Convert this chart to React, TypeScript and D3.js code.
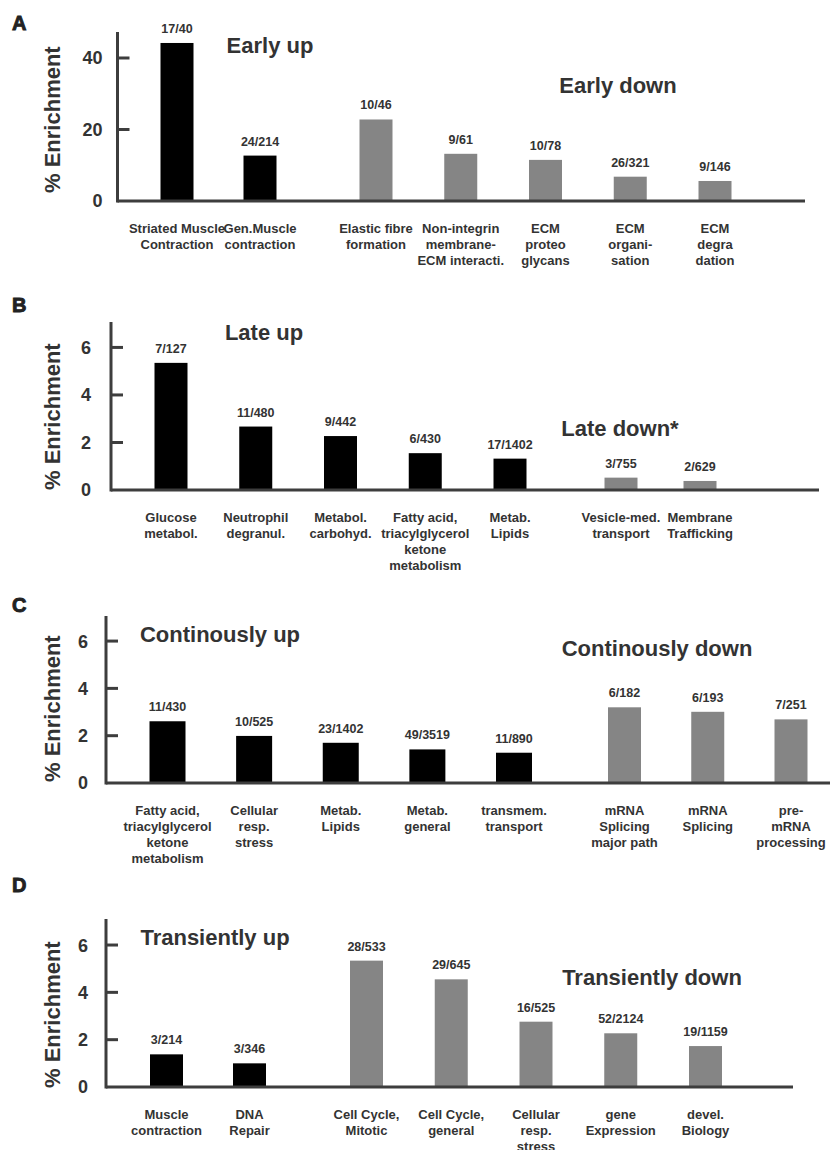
import React from "react";
import * as d3 from "d3";

// ---------- DATA ----------
const upCatsA = [["Striated Muscle", "Contraction"], ["Gen.Muscle", "contraction"]];
const upValsA = [44.2, 12.7];
const upNA = ["17/40", "24/214"];
const downCatsA = [
  ["Elastic fibre", "formation"],
  ["Non-integrin", "membrane-", "ECM interacti."],
  ["ECM", "proteo", "glycans"],
  ["ECM", "organi-", "sation"],
  ["ECM", "degra", "dation"],
];
const downValsA = [22.8, 13.2, 11.5, 6.8, 5.6];
const downNA = ["10/46", "9/61", "10/78", "26/321", "9/146"];
const ticksA = [0, 20, 40];

const upCatsB = [
  ["Glucose", "metabol."],
  ["Neutrophil", "degranul."],
  ["Metabol.", "carbohyd."],
  ["Fatty acid,", "triacylglycerol", "ketone", "metabolism"],
  ["Metab.", "Lipids"],
];
const upValsB = [5.35, 2.67, 2.27, 1.55, 1.32];
const upNB = ["7/127", "11/480", "9/442", "6/430", "17/1402"];
const downCatsB = [["Vesicle-med.", "transport"], ["Membrane", "Trafficking"]];
const downValsB = [0.52, 0.38];
const downNB = ["3/755", "2/629"];
const ticksB = [0, 2, 4, 6];

const upCatsC = [
  ["Fatty acid,", "triacylglycerol", "ketone", "metabolism"],
  ["Cellular", "resp.", "stress"],
  ["Metab.", "Lipids"],
  ["Metab.", "general"],
  ["transmem.", "transport"],
];
const upValsC = [2.61, 1.99, 1.7, 1.42, 1.28];
const upNC = ["11/430", "10/525", "23/1402", "49/3519", "11/890"];
const downCatsC = [
  ["mRNA", "Splicing", "major path"],
  ["mRNA", "Splicing"],
  ["pre-", "mRNA", "processing"],
];
const downValsC = [3.2, 3.01, 2.69];
const downNC = ["6/182", "6/193", "7/251"];
const ticksC = [0, 2, 4, 6];

const upCatsD = [["Muscle", "contraction"], ["DNA", "Repair"]];
const upValsD = [1.38, 1.0];
const upND = ["3/214", "3/346"];
const downCatsD = [
  ["Cell Cycle,", "Mitotic"],
  ["Cell Cycle,", "general"],
  ["Cellular", "resp.", "stress"],
  ["gene", "Expression"],
  ["devel.", "Biology"],
];
const downValsD = [5.34, 4.55, 2.76, 2.27, 1.73];
const downND = ["28/533", "29/645", "16/525", "52/2124", "19/1159"];
const ticksD = [0, 2, 4, 6];

// ---------- LAYOUT ----------
const FONT = "'Liberation Sans', Arial, Helvetica, sans-serif";
const TXT = "#333333";
const AXIS = "#3d3d3d";
const GRAY = "#858585";

type Group = { cats: string[][]; vals: number[]; ns: string[]; range: [number, number]; color: string; w: number; title: string; titlePos: [number, number] };
type Panel = { letter: string; letterY: number; axisX: number; top: number; base: number; yMax: number; ticks: number[]; tickGap: number; end: number; yLabelBottom: number; groups: Group[] };

const panels: Panel[] = [
  {
    letter: "A", letterY: 30, axisX: 117.5, top: 32, base: 201, yMax: 47.27, ticks: ticksA, tickGap: 15, end: 805, yLabelBottom: 193,
    groups: [
      { cats: upCatsA, vals: upValsA, ns: upNA, range: [177, 260], color: "#000", w: 33, title: "Early up", titlePos: [270, 53] },
      { cats: downCatsA, vals: downValsA, ns: downNA, range: [376, 715], color: GRAY, w: 33, title: "Early down", titlePos: [618, 93] },
    ],
  },
  {
    letter: "B", letterY: 312, axisX: 111, top: 322, base: 490, yMax: 7.07, ticks: ticksB, tickGap: 20, end: 819, yLabelBottom: 490,
    groups: [
      { cats: upCatsB, vals: upValsB, ns: upNB, range: [171, 510], color: "#000", w: 33, title: "Late up", titlePos: [264, 340] },
      { cats: downCatsB, vals: downValsB, ns: downNB, range: [621, 700], color: GRAY, w: 33, title: "Late down*", titlePos: [620, 436] },
    ],
  },
  {
    letter: "C", letterY: 612, axisX: 106, top: 616, base: 783, yMax: 7.06, ticks: ticksC, tickGap: 18, end: 830, yLabelBottom: 782,
    groups: [
      { cats: upCatsC, vals: upValsC, ns: upNC, range: [167.5, 514], color: "#000", w: 36, title: "Continously up", titlePos: [220, 642] },
      { cats: downCatsC, vals: downValsC, ns: downNC, range: [624.5, 791], color: GRAY, w: 33, title: "Continously down", titlePos: [657, 656] },
    ],
  },
  {
    letter: "D", letterY: 892, axisX: 106, top: 919, base: 1087, yMax: 7.1, ticks: ticksD, tickGap: 18, end: 793, yLabelBottom: 1088,
    groups: [
      { cats: upCatsD, vals: upValsD, ns: upND, range: [166.5, 249.5], color: "#000", w: 33, title: "Transiently up", titlePos: [215, 945] },
      { cats: downCatsD, vals: downValsD, ns: downND, range: [366.5, 705.5], color: GRAY, w: 33, title: "Transiently down", titlePos: [652, 985] },
    ],
  },
];

function PanelView({ p }: { p: Panel }) {
  const y = d3.scaleLinear().domain([0, p.yMax]).range([p.base, p.top]);
  return (
    <g>
      <text x={12} y={p.letterY} fontSize={20} fontWeight={900} fill="#222" stroke="#222" strokeWidth={0.9} fontFamily={FONT}>
        {p.letter}
      </text>
      <text
        transform={`translate(60,${p.yLabelBottom}) rotate(-90)`}
        fontSize={22}
        fontWeight="bold"
        fill={TXT}
        fontFamily={FONT}
      >
        % Enrichment
      </text>
      {p.ticks.map((t) => (
        <g key={t}>
          {t !== 0 && <line x1={p.axisX} x2={p.axisX + 12} y1={y(t)} y2={y(t)} stroke={AXIS} strokeWidth={3} />}
          <text x={p.axisX - p.tickGap} y={y(t)} dy="0.36em" textAnchor="end" fontSize={18} fontWeight="bold" fill={TXT} fontFamily={FONT}>
            {t}
          </text>
        </g>
      ))}
      {p.groups.map((g, gi) => {
        const keys = g.cats.map((c) => c.join(" "));
        const x = d3.scalePoint<string>().domain(keys).range(g.range);
        return (
          <g key={gi}>
            <text x={g.titlePos[0]} y={g.titlePos[1]} textAnchor="middle" fontSize={22} fontWeight="bold" fill={TXT} fontFamily={FONT}>
              {g.title}
            </text>
            {keys.map((k, i) => {
              const cx = x(k) as number;
              const top = y(g.vals[i]);
              return (
                <g key={k + i}>
                  <rect x={cx - g.w / 2} y={top} width={g.w} height={p.base - top} fill={g.color} />
                  <text x={cx} y={top - 10} textAnchor="middle" fontSize={12.5} fontWeight="bold" fill={TXT} fontFamily={FONT}>
                    {g.ns[i]}
                  </text>
                  <text textAnchor="middle" fontSize={13} fontWeight="bold" fill={TXT} fontFamily={FONT}>
                    {g.cats[i].map((line, li) => (
                      <tspan key={li} x={cx} y={p.base + 32 + li * 16}>
                        {line}
                      </tspan>
                    ))}
                  </text>
                </g>
              );
            })}
          </g>
        );
      })}
      <line x1={p.axisX} x2={p.end} y1={p.base} y2={p.base} stroke={AXIS} strokeWidth={3} />
      <line x1={p.axisX} x2={p.axisX} y1={p.top} y2={p.base + 1.5} stroke={AXIS} strokeWidth={3} />
    </g>
  );
}

export default function App() {
  return (
    <svg
      width={833}
      height={1150}
      viewBox="0 0 833 1150"
      style={{ position: "absolute", left: 0, top: 0, background: "#fff" }}
    >
      <rect width={833} height={1150} fill="#fff" />
      {panels.map((p) => (
        <PanelView key={p.letter} p={p} />
      ))}
    </svg>
  );
}
